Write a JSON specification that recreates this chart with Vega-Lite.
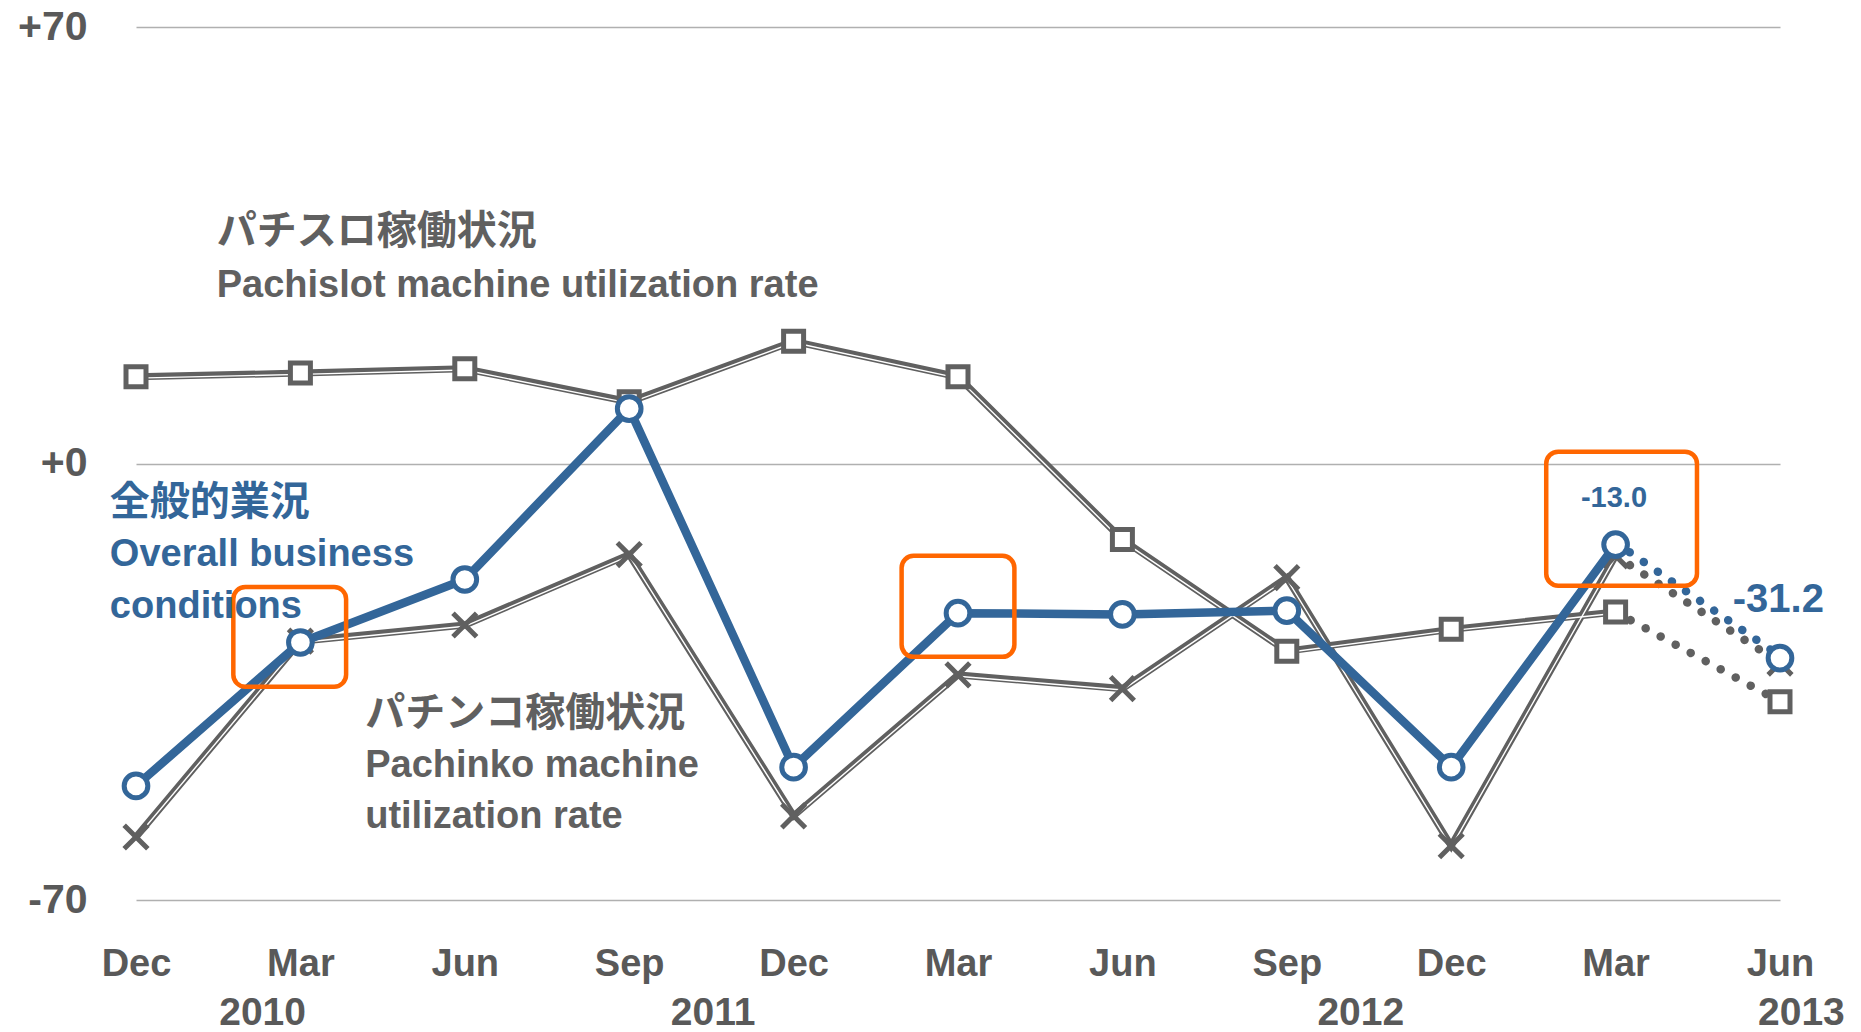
{
  "$schema": "https://vega.github.io/schema/vega-lite/v6.json",
  "width": 1644,
  "height": 873,
  "autosize": {"type": "none"},
  "padding": {"left": 136, "top": 27, "right": 81, "bottom": 132},
  "background": "white",
  "config": {"view": {"stroke": null}, "font": "Liberation Sans"},
  "datasets": {
    "series": [
      {"series": "slot", "i": 0, "v": 13.9}, {"series": "slot", "i": 1, "v": 14.5}, {"series": "slot", "i": 2, "v": 15.2},
      {"series": "slot", "i": 3, "v": 9.9}, {"series": "slot", "i": 4, "v": 19.6}, {"series": "slot", "i": 5, "v": 13.9},
      {"series": "slot", "i": 6, "v": -12.2}, {"series": "slot", "i": 7, "v": -30.1}, {"series": "slot", "i": 8, "v": -26.6},
      {"series": "slot", "i": 9, "v": -23.8}, {"series": "slot", "i": 10, "v": -38.2},
      {"series": "overall", "i": 0, "v": -51.7}, {"series": "overall", "i": 1, "v": -28.7}, {"series": "overall", "i": 2, "v": -18.6},
      {"series": "overall", "i": 3, "v": 8.8}, {"series": "overall", "i": 4, "v": -48.7}, {"series": "overall", "i": 5, "v": -24.0},
      {"series": "overall", "i": 6, "v": -24.2}, {"series": "overall", "i": 7, "v": -23.6}, {"series": "overall", "i": 8, "v": -48.7},
      {"series": "overall", "i": 9, "v": -13.0}, {"series": "overall", "i": 10, "v": -31.2},
      {"series": "pachinko", "i": 0, "v": -59.9}, {"series": "pachinko", "i": 1, "v": -28.5}, {"series": "pachinko", "i": 2, "v": -25.9},
      {"series": "pachinko", "i": 3, "v": -14.6}, {"series": "pachinko", "i": 4, "v": -56.5}, {"series": "pachinko", "i": 5, "v": -33.9},
      {"series": "pachinko", "i": 6, "v": -36.1}, {"series": "pachinko", "i": 7, "v": -18.3}, {"series": "pachinko", "i": 8, "v": -61.3},
      {"series": "pachinko", "i": 9, "v": -14.8}, {"series": "pachinko", "i": 10, "v": -32.0}
    ],
    "boxes": [
      {"i": 0.592, "i2": 1.278, "v": -19.8, "v2": -35.8},
      {"i": 4.657, "i2": 5.343, "v": -14.8, "v2": -31.0},
      {"i": 8.578, "i2": 9.495, "v": 1.9, "v2": -19.6}
    ],
    "notes": [
      {"kind": "jp", "series": "gray", "i": 0.491, "v": 37.1, "text": "パチスロ稼働状況"},
      {"kind": "en", "series": "gray", "i": 0.491, "v": 28.5, "text": "Pachislot machine utilization rate"},
      {"kind": "jp", "series": "blue", "i": -0.159, "v": -6.3, "text": "全般的業況"},
      {"kind": "en", "series": "blue", "i": -0.159, "v": -14.6, "text": "Overall business"},
      {"kind": "en", "series": "blue", "i": -0.159, "v": -23.0, "text": "conditions"},
      {"kind": "jp", "series": "gray", "i": 1.394, "v": -40.1, "text": "パチンコ稼働状況"},
      {"kind": "en", "series": "gray", "i": 1.394, "v": -48.5, "text": "Pachinko machine"},
      {"kind": "en", "series": "gray", "i": 1.394, "v": -56.7, "text": "utilization rate"}
    ],
    "values": [
      {"kind": "small", "i": 8.99, "v": -5.5, "text": "-13.0"},
      {"kind": "big", "i": 9.99, "v": -21.9, "text": "-31.2"}
    ],
    "years": [
      {"i": 0.77, "v": -88.2, "text": "2010"},
      {"i": 3.51, "v": -88.2, "text": "2011"},
      {"i": 7.45, "v": -88.2, "text": "2012"},
      {"i": 10.13, "v": -88.2, "text": "2013"}
    ]
  },
  "encoding": {
    "x": {
      "field": "i", "type": "quantitative",
      "scale": {"domain": [0, 10], "nice": false, "zero": false},
      "axis": {
        "values": [0, 1, 2, 3, 4, 5, 6, 7, 8, 9, 10],
        "labelExpr": "['Dec','Mar','Jun','Sep','Dec','Mar','Jun','Sep','Dec','Mar','Jun'][datum.value]",
        "title": null, "grid": false, "domain": false, "ticks": false,
        "labelFlush": false, "labelOverlap": false,
        "labelFontSize": 38, "labelFontWeight": "bold", "labelColor": "#595959",
        "labelPadding": 64, "labelBaseline": "middle"
      }
    },
    "y": {
      "field": "v", "type": "quantitative",
      "scale": {"domain": [-70, 70], "nice": false, "zero": false},
      "axis": {
        "values": [-70, 0, 70],
        "labelExpr": "datum.value > 0 ? '+' + datum.value : (datum.value == 0 ? '+0' : '' + datum.value)",
        "title": null, "grid": true, "gridColor": "#b0b0b0", "gridWidth": 1.3,
        "domain": false, "ticks": false, "labelFlush": false,
        "labelFontSize": 41, "labelFontWeight": "bold", "labelColor": "#595959",
        "labelPadding": 49, "labelBaseline": "middle"
      }
    }
  },
  "layer": [
    {
      "data": {"name": "series"},
      "transform": [{"filter": "datum.series != 'overall' && datum.i <= 9"}],
      "mark": {"type": "line", "color": "#606060", "strokeWidth": 7, "strokeJoin": "miter"},
      "encoding": {"detail": {"field": "series"}}
    },
    {
      "data": {"name": "series"},
      "transform": [{"filter": "datum.series != 'overall' && datum.i <= 9"}],
      "mark": {"type": "line", "color": "white", "strokeWidth": 1.4, "yOffset": 1.3},
      "encoding": {"detail": {"field": "series"}}
    },
    {
      "data": {"name": "series"},
      "transform": [{"filter": "datum.series != 'overall' && datum.i >= 9"}],
      "mark": {"type": "line", "color": "#606060", "strokeWidth": 8.5, "strokeCap": "round", "strokeDash": [0.1, 17]},
      "encoding": {"detail": {"field": "series"}}
    },
    {
      "data": {"name": "series"},
      "transform": [{"filter": "datum.series == 'slot'"}],
      "mark": {"type": "point", "shape": "square", "size": 400, "filled": true, "fill": "white", "stroke": "#606060", "strokeWidth": 5, "opacity": 1}
    },
    {
      "data": {"name": "series"},
      "transform": [{"filter": "datum.series == 'pachinko'"}],
      "mark": {"type": "point", "shape": "M-1,-1L1,1M-1,1L1,-1", "size": 560, "filled": false, "stroke": "#606060", "strokeWidth": 5, "opacity": 1}
    },
    {
      "data": {"name": "series"},
      "transform": [{"filter": "datum.series == 'overall' && datum.i <= 9"}],
      "mark": {"type": "line", "color": "#336699", "strokeWidth": 8.5, "strokeJoin": "round"},
      "encoding": {}
    },
    {
      "data": {"name": "series"},
      "transform": [{"filter": "datum.series == 'overall' && datum.i >= 9"}],
      "mark": {"type": "line", "color": "#336699", "strokeWidth": 8.5, "strokeCap": "round", "strokeDash": [0.1, 17], "yOffset": -2},
      "encoding": {}
    },
    {
      "data": {"name": "series"},
      "transform": [{"filter": "datum.series == 'overall'"}],
      "mark": {"type": "point", "shape": "circle", "size": 560, "filled": true, "fill": "white", "stroke": "#336699", "strokeWidth": 5, "opacity": 1}
    },
    {
      "data": {"name": "boxes"},
      "mark": {"type": "rect", "filled": false, "stroke": "#FF6600", "strokeWidth": 4.5, "cornerRadius": 12},
      "encoding": {
        "x2": {"field": "i2"},
        "y2": {"field": "v2"}
      }
    },
    {
      "data": {"name": "notes"},
      "transform": [{"filter": "datum.kind == 'jp'"}],
      "mark": {"type": "text", "align": "left", "baseline": "middle", "font": "Noto Sans CJK JP", "fontWeight": "bold", "fontSize": 40},
      "encoding": {
        "text": {"field": "text"},
        "color": {"field": "series", "type": "nominal", "scale": {"domain": ["gray", "blue"], "range": ["#606060", "#336699"]}, "legend": null}
      }
    },
    {
      "data": {"name": "notes"},
      "transform": [{"filter": "datum.kind == 'en'"}],
      "mark": {"type": "text", "align": "left", "baseline": "middle", "fontWeight": "bold", "fontSize": 38},
      "encoding": {
        "text": {"field": "text"},
        "color": {"field": "series", "type": "nominal", "scale": {"domain": ["gray", "blue"], "range": ["#606060", "#336699"]}, "legend": null}
      }
    },
    {
      "data": {"name": "values"},
      "transform": [{"filter": "datum.kind == 'small'"}],
      "mark": {"type": "text", "align": "center", "baseline": "middle", "fontWeight": "bold", "fontSize": 29, "color": "#336699"},
      "encoding": {"text": {"field": "text"}}
    },
    {
      "data": {"name": "values"},
      "transform": [{"filter": "datum.kind == 'big'"}],
      "mark": {"type": "text", "align": "center", "baseline": "middle", "fontWeight": "bold", "fontSize": 40, "color": "#336699"},
      "encoding": {"text": {"field": "text"}}
    },
    {
      "data": {"name": "years"},
      "mark": {"type": "text", "align": "center", "baseline": "middle", "fontWeight": "bold", "fontSize": 39, "color": "#595959"},
      "encoding": {"text": {"field": "text"}}
    }
  ]
}
